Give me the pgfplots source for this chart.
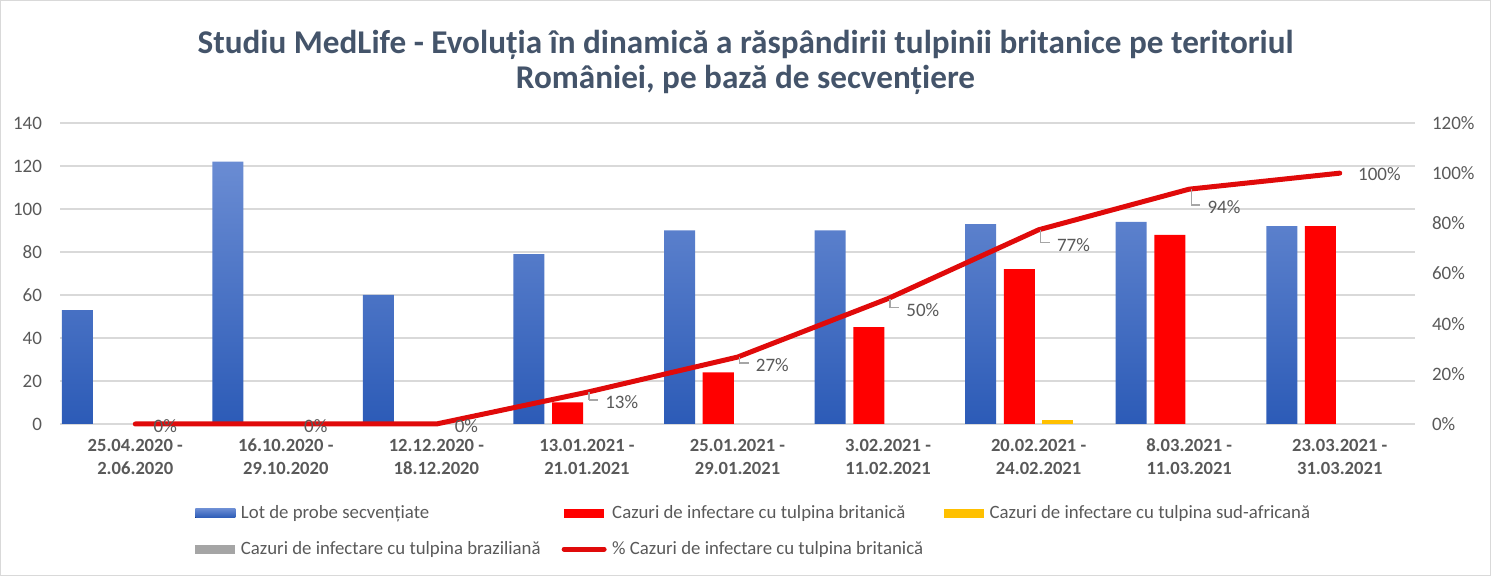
\documentclass[border=0pt]{standalone}
\usepackage{pgfplots}
\pgfplotsset{compat=1.18}
\usepackage{pgfplotstable}
\usepackage{fontspec}
\setmainfont{Carlito}
\definecolor{titlec}{HTML}{44546A}
\definecolor{tickc}{HTML}{595959}
\definecolor{gridc}{HTML}{D9D9D9}
\definecolor{bluetop}{HTML}{6A8CD3}
\definecolor{bluebot}{HTML}{2C5BB7}
\definecolor{redbar}{HTML}{FF0000}
\definecolor{redline}{HTML}{E00A0A}
\definecolor{yellowbar}{HTML}{FFC000}
\definecolor{graybar}{HTML}{A5A5A5}
\definecolor{leadc}{HTML}{A6A6A6}

% Lot de probe secventiate
\pgfplotstableread{
x lot
0 53
1 122
2 60
3 79
4 90
5 90
6 93
7 94
8 92
}\lot

% Cazuri tulpina britanica (zero values omitted)
\pgfplotstableread{
x brit
3 10
4 24
5 45
6 72
7 88
8 92
}\brit

% Cazuri tulpina sud-africana (zero values omitted)
\pgfplotstableread{
x saf
6 2
}\saf

\pgfplotstableread{
x pct
0 0
1 0
2 0
3 12.66
4 26.67
5 50
6 77.42
7 93.62
8 100
}\pctline

\pgfplotstableread{
x ly p
0 -0.8 0
1 -0.8 0
2 -0.8 0
3 8.8 12.66
4 23.5 26.67
5 45.5 50
6 71.4 77.42
7 86.5 93.62
8 99.7 100
}\pctlabels

\pgfplotstableread{
x y u v
3.013 12.66 0 -3.06
3.013 9.6 0.06 0
4.013 26.67 0 -2.37
4.013 24.3 0.06 0
5.013 50 0 -3.7
5.013 46.3 0.06 0
6.013 77.42 0 -5.22
6.013 72.2 0.06 0
7.013 93.62 0 -6.32
7.013 87.3 0.06 0
}\leaders

\begin{document}
\begin{tikzpicture}
\path[use as bounding box] (0pt,0pt) rectangle (745.5pt,288pt);
\draw[gridc, line width=0.6pt] (0.3pt,0.3pt) rectangle (745.2pt,287.7pt);
\node[font=\fontsize{16.6}{19}\selectfont\bfseries, text=titlec] at (372.75pt,265.5pt) {Studiu MedLife - Evoluția în dinamică a răspândirii tulpinii britanice pe teritoriul};
\node[font=\fontsize{16.6}{19}\selectfont\bfseries, text=titlec] at (372.75pt,248pt) {României, pe bază de secvențiere};

\begin{axis}[
  at={(67.64pt,76pt)}, anchor=origin,
  scale only axis, width=677.5pt, height=150.5pt,
  xmin=-0.5, xmax=8.5, ymin=0, ymax=140,
  ytick={0,20,...,140},
  xtick={0,...,8},
  xticklabels={{25.04.2020 -\\2.06.2020},{16.10.2020 -\\29.10.2020},{12.12.2020 -\\18.12.2020},{13.01.2021 -\\21.01.2021},{25.01.2021 -\\29.01.2021},{3.02.2021 -\\11.02.2021},{20.02.2021 -\\24.02.2021},{8.03.2021 -\\11.03.2021},{23.03.2021 -\\31.03.2021}},
  ymajorgrids, grid style={gridc, line width=0.8pt},
  axis line style={draw=none},
  major tick length=0pt,
  /pgf/number format/assume math mode=true,
  tick label style={text=tickc, font=\fontsize{9.5}{11.5}\selectfont},
  yticklabel style={xshift=-5.5pt},
  xticklabel style={font=\fontsize{9.3}{11.5}\selectfont\bfseries, align=center, yshift=-4pt},
]
\addplot[ybar, bar width=0.206, bar shift=-0.385, draw=none, top color=bluetop, bottom color=bluebot] table[x=x, y=lot] {\lot};
\addplot[ybar, bar width=0.206, bar shift=-0.128, draw=none, fill=redbar] table[x=x, y=brit] {\brit};
\addplot[ybar, bar width=0.206, bar shift=0.128, draw=none, fill=yellowbar] table[x=x, y=saf] {\saf};
\end{axis}

\begin{axis}[
  at={(67.64pt,76pt)}, anchor=origin,
  scale only axis, width=677.5pt, height=150.5pt,
  xmin=-0.5, xmax=8.5, ymin=0, ymax=120,
  axis x line=none,
  axis y line*=right,
  axis line style={draw=none},
  ytick={0,20,...,120},
  yticklabel={\pgfmathprintnumber{\tick}\%},
  major tick length=0pt,
  clip=false,
  /pgf/number format/assume math mode=true,
  tick label style={text=tickc, font=\fontsize{9.5}{11.5}\selectfont},
  yticklabel style={xshift=5pt},
  legend columns=3,
  legend style={at={(0.0996,-0.255)}, anchor=north west, draw=none, fill=none,
    font=\fontsize{9.4}{11}\selectfont, text=tickc, inner sep=0pt,
    row sep=6pt,
    /tikz/every odd column/.append style={column sep=0.8pt},
    /tikz/every even column/.append style={column sep=8.5pt}},
  legend cell align=left,
]
\addlegendimage{legend image code/.code={\fill[draw=none, top color=bluetop, bottom color=bluebot] (0pt,-2.25pt) rectangle (20pt,2.25pt);}}
\addlegendentry{Lot de probe secvențiate}
\addlegendimage{legend image code/.code={\fill[draw=none, fill=redbar] (0pt,-2.25pt) rectangle (20pt,2.25pt);}}
\addlegendentry{Cazuri de infectare cu tulpina britanică}
\addlegendimage{legend image code/.code={\fill[draw=none, fill=yellowbar] (0pt,-2.25pt) rectangle (20pt,2.25pt);}}
\addlegendentry{Cazuri de infectare cu tulpina sud-africană}
\addlegendimage{legend image code/.code={\fill[draw=none, fill=graybar] (0pt,-2.25pt) rectangle (20pt,2.25pt);}}
\addlegendentry{Cazuri de infectare cu tulpina braziliană}
\addplot[redline, line width=2.5pt, line join=round, line cap=round, mark=none,
  legend image code/.code={\draw[redline, line width=2.5pt, line cap=round] (0pt,0pt) -- (20pt,0pt);}]
  table[x=x, y=pct] {\pctline};
\addlegendentry{\% Cazuri de infectare cu tulpina britanică}
\addplot[forget plot, quiver={u=\thisrow{u}, v=\thisrow{v}}, leadc, line width=0.6pt, -] table[x=x, y=y] {\leaders};
\addplot[forget plot, draw=none, mark=none, nodes near coords, point meta=explicit,
  nodes near coords={\pgfmathprintnumber[fixed,precision=0]{\pgfplotspointmeta}\%},
  nodes near coords style={anchor=west, inner sep=0pt, xshift=9pt, yshift=0pt, text=tickc, font=\fontsize{9.5}{11.5}\selectfont}]
  table[x=x, y=ly, meta=p] {\pctlabels};
\end{axis}
\end{tikzpicture}
\end{document}
